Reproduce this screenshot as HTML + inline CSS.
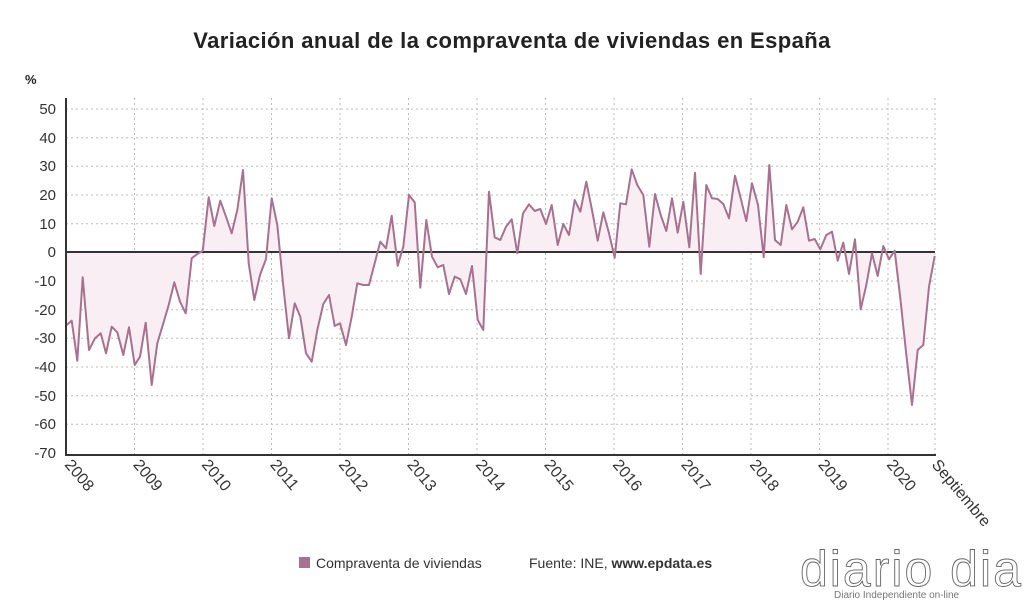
<!DOCTYPE html>
<html><head><meta charset="utf-8"><style>
body{margin:0;background:#fff;width:1024px;height:601px;overflow:hidden;font-family:"Liberation Sans","DejaVu Sans",sans-serif}
</style></head><body>
<svg width="1024" height="601" xmlns="http://www.w3.org/2000/svg" font-family="Liberation Sans, DejaVu Sans, sans-serif">
<text x="512" y="48" text-anchor="middle" font-size="22" font-weight="bold" fill="#222" letter-spacing="0.4">Variación anual de la compraventa de viviendas en España</text>
<text x="25" y="84" font-size="13" font-weight="bold" fill="#222">%</text>
<g stroke="#bbb" stroke-dasharray="2,3" stroke-width="1">
<line x1="66" y1="109" x2="935" y2="109"/><line x1="66" y1="137.7" x2="935" y2="137.7"/><line x1="66" y1="166.3" x2="935" y2="166.3"/><line x1="66" y1="195" x2="935" y2="195"/><line x1="66" y1="223.7" x2="935" y2="223.7"/><line x1="66" y1="281" x2="935" y2="281"/><line x1="66" y1="309.7" x2="935" y2="309.7"/><line x1="66" y1="338.3" x2="935" y2="338.3"/><line x1="66" y1="367" x2="935" y2="367"/><line x1="66" y1="395.7" x2="935" y2="395.7"/><line x1="66" y1="424.3" x2="935" y2="424.3"/>
<line x1="134.5" y1="98" x2="134.5" y2="455"/><line x1="203" y1="98" x2="203" y2="455"/><line x1="271.5" y1="98" x2="271.5" y2="455"/><line x1="340" y1="98" x2="340" y2="455"/><line x1="408.5" y1="98" x2="408.5" y2="455"/><line x1="477" y1="98" x2="477" y2="455"/><line x1="545.5" y1="98" x2="545.5" y2="455"/><line x1="614" y1="98" x2="614" y2="455"/><line x1="682.5" y1="98" x2="682.5" y2="455"/><line x1="751" y1="98" x2="751" y2="455"/><line x1="819.5" y1="98" x2="819.5" y2="455"/><line x1="888" y1="98" x2="888" y2="455"/><line x1="935" y1="98" x2="935" y2="455"/>
</g>
<polygon fill="#f8eef3" points="66.7,252 66.7,325 71.7,320.7 77.3,360.7 82.7,277.3 89,350 95,338.3 100.7,333.3 106,353.3 111.7,326.7 117.3,332.3 123.3,355 129,327.3 134.7,365 140,356.7 145.7,322.7 151.7,385 157.3,343.3 163.3,323.3 168.7,305 174.3,282.3 180,301.7 185.7,313.3 191.7,258.3 197.3,254 202.7,251 208.7,197.3 214.3,226 220.3,200.7 226,216.7 231.7,233.3 237.3,210 243,170 248.7,263.3 254.3,300 260,275 266,259 271.7,198.3 277.3,225 283,283.3 289,338.3 294.7,303.3 300.3,316.7 306,353.3 311.7,361.7 317.3,330 323.3,304 329,295 334.7,326 340,323.3 346,345 351.7,316.7 357.3,283.3 363.3,285 369,285 374.7,263.3 380.3,241.7 386,248.3 391.7,215.7 397.7,265.7 403.3,246.7 409,195 414.7,202.3 420.3,287.7 426.3,220 432,256.7 437.7,267.3 443.3,265 449,294 454.7,276.7 460.3,279.3 466,294 472,266 477.7,320 483.3,330 489,191.7 494.7,237.3 500.3,240 506,226.7 511.7,219.3 517.3,253.3 523,213.3 529,204.3 534.7,211 540.3,209 546,224 551.7,205 557.7,245 563.3,224 569,235 574.7,200 580.3,211.7 586.3,181.7 592,210 597.7,240.7 603.3,212.3 609,233.3 614.7,257.7 620.3,203.3 626,204.3 631.7,169.3 637.3,185 643.3,195 649.3,246.7 655,194 660.7,215 666.3,231 672,198.3 677.7,232.7 683.3,201.7 689.3,247.3 695,172.7 700.7,274 706.3,185 712,198.3 717.7,199 723.3,204 729,218.3 735,175.7 740.7,198.3 746.3,221 752,183.3 758,205 763.7,257.3 769.3,165 775,240 780.7,245 786.3,205 792,229.3 797.7,221.7 803.3,207.3 809,240.7 814.7,239 820.3,249.3 826.3,235 832,231.7 837.7,260.7 843.3,242.7 849,274 855,239.3 860.7,309.3 866.3,285 872,253.3 877.7,276 883.3,246 889,259.3 894.7,250.7 900.3,298.3 906,351.7 912,405 917.7,350 923.3,345 929,286.7 934.7,256 934.7,252"/>
<line x1="66" y1="252" x2="935" y2="252" stroke="#333" stroke-width="2"/>
<polyline fill="none" stroke="#a8728f" stroke-width="2" stroke-linejoin="round" points="66.7,325 71.7,320.7 77.3,360.7 82.7,277.3 89,350 95,338.3 100.7,333.3 106,353.3 111.7,326.7 117.3,332.3 123.3,355 129,327.3 134.7,365 140,356.7 145.7,322.7 151.7,385 157.3,343.3 163.3,323.3 168.7,305 174.3,282.3 180,301.7 185.7,313.3 191.7,258.3 197.3,254 202.7,251 208.7,197.3 214.3,226 220.3,200.7 226,216.7 231.7,233.3 237.3,210 243,170 248.7,263.3 254.3,300 260,275 266,259 271.7,198.3 277.3,225 283,283.3 289,338.3 294.7,303.3 300.3,316.7 306,353.3 311.7,361.7 317.3,330 323.3,304 329,295 334.7,326 340,323.3 346,345 351.7,316.7 357.3,283.3 363.3,285 369,285 374.7,263.3 380.3,241.7 386,248.3 391.7,215.7 397.7,265.7 403.3,246.7 409,195 414.7,202.3 420.3,287.7 426.3,220 432,256.7 437.7,267.3 443.3,265 449,294 454.7,276.7 460.3,279.3 466,294 472,266 477.7,320 483.3,330 489,191.7 494.7,237.3 500.3,240 506,226.7 511.7,219.3 517.3,253.3 523,213.3 529,204.3 534.7,211 540.3,209 546,224 551.7,205 557.7,245 563.3,224 569,235 574.7,200 580.3,211.7 586.3,181.7 592,210 597.7,240.7 603.3,212.3 609,233.3 614.7,257.7 620.3,203.3 626,204.3 631.7,169.3 637.3,185 643.3,195 649.3,246.7 655,194 660.7,215 666.3,231 672,198.3 677.7,232.7 683.3,201.7 689.3,247.3 695,172.7 700.7,274 706.3,185 712,198.3 717.7,199 723.3,204 729,218.3 735,175.7 740.7,198.3 746.3,221 752,183.3 758,205 763.7,257.3 769.3,165 775,240 780.7,245 786.3,205 792,229.3 797.7,221.7 803.3,207.3 809,240.7 814.7,239 820.3,249.3 826.3,235 832,231.7 837.7,260.7 843.3,242.7 849,274 855,239.3 860.7,309.3 866.3,285 872,253.3 877.7,276 883.3,246 889,259.3 894.7,250.7 900.3,298.3 906,351.7 912,405 917.7,350 923.3,345 929,286.7 934.7,256"/>
<line x1="66" y1="98" x2="66" y2="456" stroke="#333" stroke-width="2"/>
<line x1="65" y1="455" x2="936" y2="455" stroke="#333" stroke-width="2"/>
<g font-size="15" fill="#333" text-anchor="end">
<text x="56" y="114">50</text><text x="56" y="143">40</text><text x="56" y="171">30</text><text x="56" y="200">20</text><text x="56" y="229">10</text><text x="56" y="257">0</text><text x="56" y="286">-10</text><text x="56" y="315">-20</text><text x="56" y="343">-30</text><text x="56" y="372">-40</text><text x="56" y="401">-50</text><text x="56" y="429">-60</text><text x="56" y="458">-70</text>
</g>
<g font-size="16" fill="#333">
<text transform="translate(64,465) rotate(50)">2008</text><text transform="translate(132.5,465) rotate(50)">2009</text><text transform="translate(201,465) rotate(50)">2010</text><text transform="translate(269.5,465) rotate(50)">2011</text><text transform="translate(338,465) rotate(50)">2012</text><text transform="translate(406.5,465) rotate(50)">2013</text><text transform="translate(475,465) rotate(50)">2014</text><text transform="translate(543.5,465) rotate(50)">2015</text><text transform="translate(612,465) rotate(50)">2016</text><text transform="translate(680.5,465) rotate(50)">2017</text><text transform="translate(749,465) rotate(50)">2018</text><text transform="translate(817.5,465) rotate(50)">2019</text><text transform="translate(886,465) rotate(50)">2020</text><text transform="translate(931,465) rotate(50)">Septiembre</text>
</g>
<rect x="299" y="557" width="11" height="11" fill="#a8728f"/>
<text x="316" y="568" font-size="14" fill="#333">Compraventa de viviendas</text>
<text x="529" y="568" font-size="14" fill="#333">Fuente: INE, <tspan font-weight="bold">www.epdata.es</tspan></text>
<text x="800" y="586" font-size="50" fill="#fff" stroke="#666" stroke-width="0.9" font-family="Liberation Sans, sans-serif" letter-spacing="2">diario dia</text>
<text x="834" y="598" font-size="10" fill="#777">Diario Independiente on-line</text>
</svg>
</body></html>
